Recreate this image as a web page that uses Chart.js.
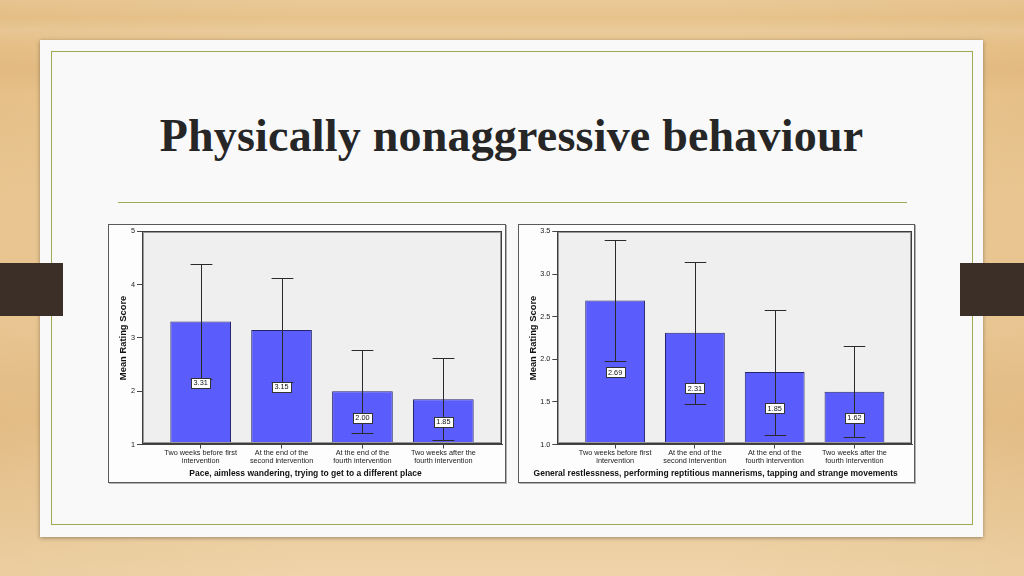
<!DOCTYPE html>
<html>
<head>
<meta charset="utf-8">
<title>Physically nonaggressive behaviour</title>
<script src="https://cdn.jsdelivr.net/npm/chart.js@4.4.1/dist/chart.umd.min.js"></script>
<style>
    html, body { margin: 0; padding: 0; }
    body {
        width: 1024px; height: 576px; position: relative; overflow: hidden;
        background:
            linear-gradient(180deg, rgba(255,255,255,0.10) 0px, rgba(255,255,255,0) 18px, rgba(255,255,255,0.12) 30px, rgba(255,255,255,0) 46px, rgba(160,100,40,0.06) 70px, rgba(255,255,255,0) 95px, rgba(255,255,255,0.08) 330px, rgba(160,100,40,0.05) 420px, rgba(255,255,255,0.10) 576px),
            linear-gradient(90deg, rgba(200,140,70,0.10) 0%, rgba(255,255,255,0) 30%, rgba(255,255,255,0) 70%, rgba(200,140,70,0.10) 100%),
            linear-gradient(180deg, #e7c38b 0%, #ebc994 35%, #e8c48d 65%, #edcf9f 100%);
    }
    .card {
        position: absolute; left: 40px; top: 40px; width: 943px; height: 497px;
        background: #f9f9f9; box-shadow: 0 1px 4px rgba(0,0,0,0.35);
    }
    .inner {
        position: absolute; left: 51px; top: 51px; width: 920px; height: 472px;
        border: 1.5px solid #98ad55;
    }
    .tab { position: absolute; top: 263px; height: 53px; background: #3b2f28; }
    h1 {
        position: absolute; left: 40px; width: 943px; top: 113px; margin: 0;
        text-align: center; font: bold 46px "Liberation Serif", serif; line-height: 46px;
        color: #262626; letter-spacing: 0.2px;
    }
    .rule {
        position: absolute; left: 118px; top: 202px; width: 789px; height: 0;
        border-top: 1.5px solid #98ad55;
    }
    .frame {
        position: absolute; top: 224px; width: 396px; height: 257px;
        border: 1px solid #5a5a5a; background: #fdfdfd; box-shadow: 1px 1px 0 #b0b0b0;
    }
    .frame canvas { display: block; }
</style>
</head>
<body>
<div class="card"></div>
<div class="inner"></div>
<div class="tab" style="left:0; width:63px;"></div>
<div class="tab" style="left:960px; width:64px;"></div>
<h1>Physically nonaggressive behaviour</h1>
<div class="rule"></div>

<div class="frame" style="left:108px;"><canvas id="paceChart" width="396" height="257"></canvas></div>
<div class="frame" style="left:518px; width:395px;"><canvas id="restChart" width="395" height="257"></canvas></div>

<script>
// x tick labels (two lines each, as in the SPSS output)
const categories = [
    ['Two weeks before first', 'intervention'],
    ['At the end of the', 'second intervention'],
    ['At the end of the', 'fourth intervention'],
    ['Two weeks after the', 'fourth intervention']
];

// Left chart: pacing / wandering
const paceTitle = 'Pace, aimless wandering, trying to get to a different place';
const paceMeans = [3.31, 3.15, 2.00, 1.85];
const paceLow = [2.23, 2.17, 1.22, 1.08];
const paceHigh = [4.39, 4.13, 2.78, 2.62];
const paceTicks = [1, 2, 3, 4, 5];

// Right chart: general restlessness
const restTitle = 'General restlessness, performing reptitious mannerisms, tapping and strange movements';
const restMeans = [2.69, 2.31, 1.85, 1.62];
const restLow = [1.98, 1.48, 1.11, 1.09];
const restHigh = [3.40, 3.14, 2.58, 2.15];
const restTicks = [1.0, 1.5, 2.0, 2.5, 3.0, 3.5];

const FONT = 'Liberation Sans';

// grey plot area, error bars, value boxes and the plot border
const spssPlot = {
    id: 'spssPlot',
    beforeDraw(chart) {
        const a = chart.chartArea;
        const ctx = chart.ctx;
        ctx.save();
        ctx.fillStyle = '#efefef';
        ctx.fillRect(a.left, a.top, a.right - a.left, a.bottom - a.top);
        ctx.restore();
    },
    afterDatasetsDraw(chart, args, opts) {
        const ctx = chart.ctx;
        const yScale = chart.scales.y;
        const meta = chart.getDatasetMeta(0);
        ctx.save();

        // error bars
        ctx.strokeStyle = '#2a2a2a';
        ctx.lineWidth = 1;
        meta.data.forEach(function(bar, i) {
            const p = bar.getProps(['x', 'width'], true);
            const x = Math.round(p.x) + 0.5;
            const top = Math.round(yScale.getPixelForValue(opts.high[i])) + 0.5;
            const bot = Math.round(yScale.getPixelForValue(opts.low[i])) + 0.5;
            const cap = p.width * 0.18;
            ctx.beginPath();
            ctx.moveTo(x, top); ctx.lineTo(x, bot);
            ctx.moveTo(x - cap, top); ctx.lineTo(x + cap, top);
            ctx.moveTo(x - cap, bot); ctx.lineTo(x + cap, bot);
            ctx.stroke();
        });

        // value labels in the middle of each bar
        ctx.font = '7.3px "' + FONT + '"';
        ctx.textAlign = 'center';
        ctx.textBaseline = 'middle';
        meta.data.forEach(function(bar, i) {
            const p = bar.getProps(['x', 'y', 'base'], true);
            const txt = opts.means[i].toFixed(2);
            const w = ctx.measureText(txt).width + 5;
            const h = 10;
            const cx = p.x;
            const cy = (p.y + p.base) / 2;
            ctx.fillStyle = '#ffffff';
            ctx.fillRect(Math.round(cx - w / 2), Math.round(cy - h / 2), Math.round(w), h);
            ctx.strokeStyle = '#333';
            ctx.lineWidth = 1;
            ctx.strokeRect(Math.round(cx - w / 2) + 0.5, Math.round(cy - h / 2) + 0.5, Math.round(w), h);
            ctx.fillStyle = '#111';
            ctx.fillText(txt, cx, cy + 0.5);
        });
        ctx.restore();
    },
    afterDraw(chart) {
        const a = chart.chartArea;
        const ctx = chart.ctx;
        ctx.save();
        ctx.strokeStyle = '#9a9a9a';
        ctx.lineWidth = 1;
        ctx.strokeRect(Math.round(a.left) + 1.5, Math.round(a.top) + 1.5, Math.round(a.right - a.left) - 3, Math.round(a.bottom - a.top) - 3);
        ctx.strokeStyle = '#3c3c3c';
        ctx.strokeRect(Math.round(a.left) + 0.5, Math.round(a.top) + 0.5, Math.round(a.right - a.left) - 1, Math.round(a.bottom - a.top) - 1);
        ctx.restore();
    }
};

function makeChart(id, means, low, high, yTicks, xTitle, yWidth, padRight, decimals) {
    const ctx = document.getElementById(id);
    return new Chart(ctx, {
        type: 'bar',
        data: {
            datasets: [{
                data: means.map(function(v, i) { return { x: i, y: v }; }),
                base: yTicks[0],
                backgroundColor: '#5a5cfb',
                borderColor: '#24246e',
                borderWidth: 1,
                barPercentage: 0.75,
                categoryPercentage: 1
            }]
        },
        options: {
            responsive: false,
            animation: false,
            layout: { padding: { left: 0, right: padRight, top: 2, bottom: 0 } },
            plugins: {
                legend: { display: false },
                tooltip: { enabled: false },
                title: {
                    display: true,
                    position: 'bottom',
                    text: xTitle,
                    color: '#111',
                    font: { family: FONT, size: 8.5, weight: 'bold', lineHeight: 1.2 },
                    padding: { top: 0.3, bottom: 3 }
                },
                spssPlot: { means: means, low: low, high: high }
            },
            scales: {
                x: {
                    type: 'linear',
                    offset: false,
                    min: -0.725,
                    max: 3.725,
                    afterBuildTicks: function(s) { s.ticks = categories.map(function(c, i) { return { value: i }; }); },
                    afterFit: function(s) { s.height = 24; },
                    grid: { offset: false, drawOnChartArea: false, drawTicks: true, tickLength: 4, color: '#444' },
                    border: { display: true, color: '#444' },
                    ticks: {
                        callback: function(v, i) { return categories[i]; },
                        color: '#222',
                        font: { family: FONT, size: 7.3, lineHeight: 1.1 },
                        padding: 0,
                        maxRotation: 0,
                        autoSkip: false
                    }
                },
                y: {
                    min: yTicks[0],
                    max: yTicks[yTicks.length - 1],
                    afterBuildTicks: function(s) { s.ticks = yTicks.map(function(v) { return { value: v }; }); },
                    afterFit: function(s) { s.width = yWidth; },
                    grid: { drawOnChartArea: false, drawTicks: true, tickLength: 5, color: '#444' },
                    border: { display: true, color: '#444' },
                    ticks: {
                        callback: function(v) { return v.toFixed(decimals); },
                        color: '#222',
                        font: { family: FONT, size: 7.3 },
                        padding: 2
                    },
                    title: {
                        display: true,
                        text: 'Mean Rating Score',
                        color: '#111',
                        font: { family: FONT, size: 9.4, weight: 'bold', lineHeight: 1.2 },
                        padding: { top: 8.4, bottom: 0 }
                    }
                }
            }
        },
        plugins: [spssPlot]
    });
}

document.addEventListener('DOMContentLoaded', function() {
    makeChart('paceChart', paceMeans, paceLow, paceHigh, paceTicks, paceTitle, 33, 3, 0);
    makeChart('restChart', restMeans, restLow, restHigh, restTicks, restTitle, 38.3, 1.7, 1);
});
</script>
</body>
</html>
